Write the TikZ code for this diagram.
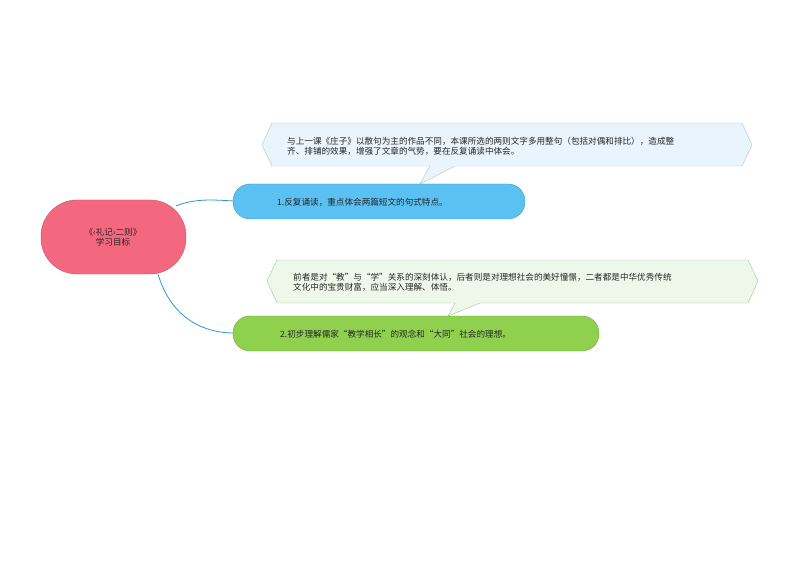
\documentclass[tikz,border=0pt]{standalone}
\usepackage{fontspec}
\setmainfont{Noto Sans CJK SC}
\begin{document}
\begin{tikzpicture}[x=1pt,y=-1pt,
  pill/.style={rounded corners=17pt,draw=#1!80!black,line width=0.4pt},
  txt/.style={font=\fontsize{8.6}{10}\selectfont,text=black!85,align=left,anchor=west,inner sep=0},
  conn/.style={draw=cyan!55!teal,line width=0.8pt}]
\useasboundingbox (0,0) rectangle (794,561);
\definecolor{rootc}{HTML}{F4687F}
\definecolor{bluec}{HTML}{5BC1F2}
\definecolor{greenc}{HTML}{8FD14F}
\definecolor{cb1}{HTML}{EAF4FC}
\definecolor{cb2}{HTML}{EFF7EA}
% callouts
\draw[fill=cb1,draw=cyan!30!gray!60] (262,145) -- (272,123) -- (742,123) -- (752,145) -- (742,166) -- (455,166) -- (420,184) -- (430,166) -- (272,166) -- cycle;
\node[txt] (c1) at (287,146) {与上一课《庄子》以散句为主的作品不同，本课所选的两则文字多用整句（包括对偶和排比），造成整\\齐、排铺的效果，增强了文章的气势，要在反复诵读中体会。};
\draw[fill=cb2,draw=green!30!gray!60] (267,281) -- (277,260) -- (748,260) -- (758,281) -- (748,303) -- (480,303) -- (448,316) -- (455,303) -- (277,303) -- cycle;
\node[txt] (c2) at (293,282) {前者是对“教”与“学”关系的深刻体认，后者则是对理想社会的美好憧憬，二者都是中华优秀传统\\文化中的宝贵财富，应当深入理解、体悟。};
% connectors
\coordinate (r1) at (176,206);
\coordinate (r2) at (158,274);
\coordinate (n1l) at (234,201);
\coordinate (n2l) at (234,333);
\draw[conn] (r1) .. controls (195,198) and (215,200) .. (n1l);
\draw[conn] (r2) .. controls (170,315) and (200,333) .. (n2l);
% nodes
\draw[pill=rootc,fill=rootc,rounded corners=36pt] (41,200) rectangle (186,274);
\node[font=\fontsize{8.6}{10}\selectfont,align=center,text=black!85] (root) at (113,237) {《‹礼记›二则》\\学习目标};
\draw[pill=bluec,fill=bluec] (233,184) rectangle (525,219);
\node[txt] (n1) at (277,202) {1.反复诵读，重点体会两篇短文的句式特点。};
\draw[pill=greenc,fill=greenc] (233,316) rectangle (599,351);
\node[txt] (n2) at (280,334) {2.初步理解儒家“教学相长”的观念和“大同”社会的理想。};
\end{tikzpicture}
\end{document}
